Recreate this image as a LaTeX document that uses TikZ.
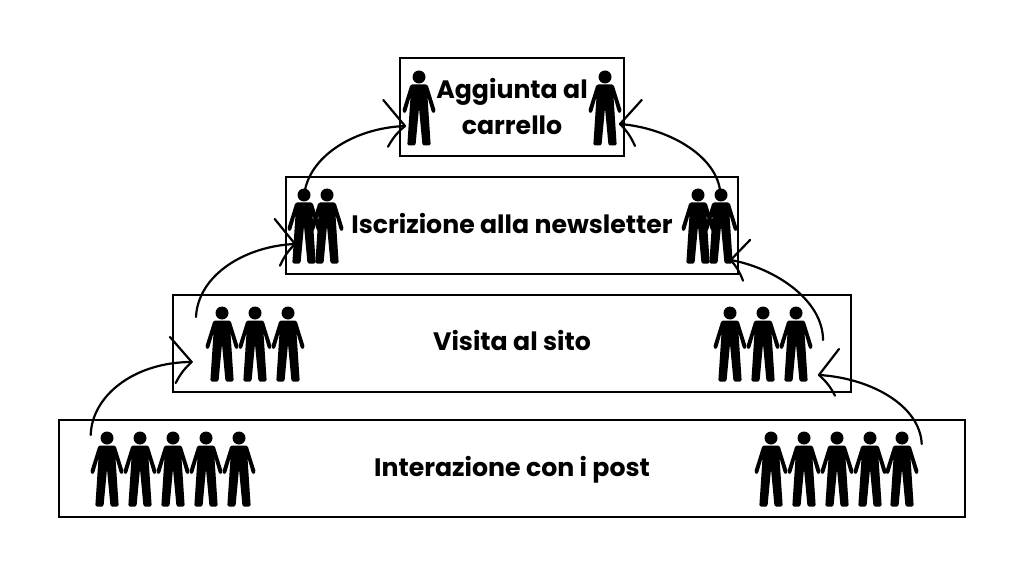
\documentclass[tikz,border=0pt]{standalone}
\usepackage{fontspec}
\setmainfont{Poppins}
\tikzset{
	level box/.style={draw,line width=2.2pt,inner sep=0pt},
	level label/.style={inner sep=0pt,font=\fontsize{25.2}{36}\selectfont\bfseries,align=center},
	link/.style={line width=2.2pt,line cap=round,line join=round},
	person/.pic={
		\fill (0,0) circle (6.5);
		\fill[rounded corners=1.5pt] (-8.5,7.5)--(8.5,7.5)--(16.8,34)--(15,36.5)--(13,35.5)--(8.5,20)--(11.7,68.5)--(3.5,68.5)--(0,31)--(-3.5,68.5)--(-11.7,68.5)--(-8.5,20)--(-13,35.5)--(-15,36.5)--(-16.8,34)--cycle;
	}
}
\begin{document}
\begin{tikzpicture}[x=1pt,y=-1pt]
	\useasboundingbox (0,0) rectangle (1024,577);
	\node[level box,minimum width=224pt,minimum height=98pt] (carrello) at (512,107) {};
	\node[level box,minimum width=452pt,minimum height=97pt] (newsletter) at (512,225.5) {};
	\node[level box,minimum width=678pt,minimum height=97pt] (sito) at (512,343.5) {};
	\node[level box,minimum width=906pt,minimum height=97pt] (post) at (512,468.5) {};
	\node[level label] (carrelloText) at (512,106.5) {Aggiunta al\\carrello};
	\node[level label] (newsletterText) at (512,223.5) {Iscrizione alla newsletter};
	\node[level label] (sitoText) at (512,340.5) {Visita al sito};
	\node[level label] (postText) at (512,469.5) {Interazione con i post};
	% people
	\foreach \x in {107,140,173,206,239,771,804,837,870,902}
		\pic at (\x,438) {person};
	\foreach \x in {222,255,288,730,763,796}
		\pic at (\x,313) {person};
	\foreach \x in {304,327,698,721}
		\pic at (\x,195) {person};
	\foreach \x in {419,605}
		\pic at (\x,77) {person};
	% arrow ends
	\coordinate (postL) at (90.7,435);
	\coordinate (sitoL) at (191.7,362);
	\coordinate (postR) at (921.7,444);
	\coordinate (sitoR) at (819,375);
	\coordinate (sitoLout) at (196,317);
	\coordinate (newsL) at (295,244);
	\coordinate (sitoRout) at (823,340);
	\coordinate (newsR) at (730.7,260);
	\coordinate (newsLout) at (305,190);
	\coordinate (carrL) at (405,126);
	\coordinate (newsRout) at (720,190);
	\coordinate (carrR) at (620,124);
	% curves
	\draw[link] (postL) .. controls (92,395) and (135,362) .. (sitoL);
	\draw[link] (postR) .. controls (920,405) and (870,378) .. (sitoR);
	\draw[link] (sitoLout) .. controls (198,275) and (245,246) .. (newsL);
	\draw[link] (sitoRout) .. controls (823,300) and (775,268) .. (newsR);
	\draw[link] (newsLout) .. controls (312,155) and (355,128) .. (carrL);
	\draw[link] (newsRout) .. controls (715,155) and (668,128) .. (carrR);
	% heads of the arrows
	\draw[link] (170,337) -- (sitoL) to[bend right=10] (175.7,383);
	\draw[link] (839,349) -- (sitoR) to[bend left=10] (835,395.7);
	\draw[link] (274.7,219) -- (newsL) to[bend right=10] (280,265.7);
	\draw[link] (750,240) -- (newsR) to[bend left=10] (743,280.7);
	\draw[link] (383.3,100) -- (carrL) to[bend right=10] (388,146.7);
	\draw[link] (641.7,100) -- (carrR) to[bend left=10] (635,146);
\end{tikzpicture}
\end{document}
